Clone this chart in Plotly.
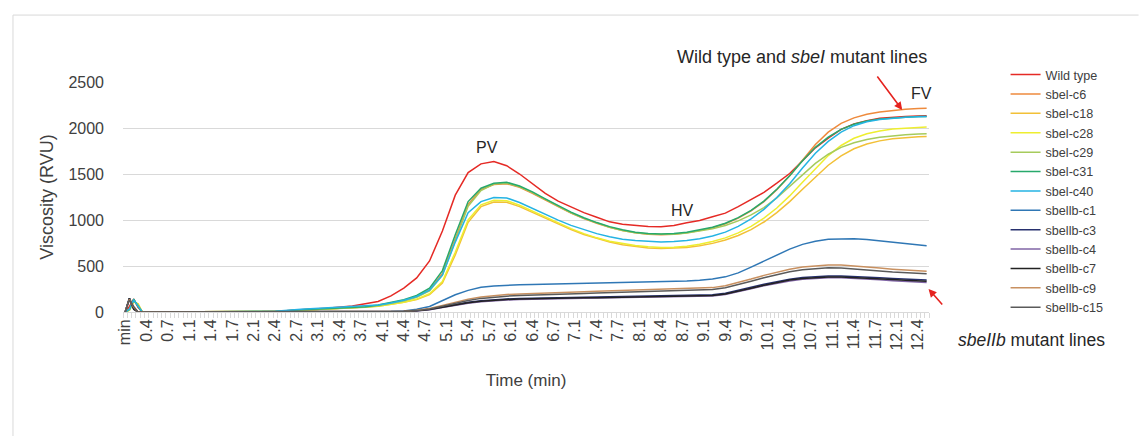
import plotly.graph_objects as go

# ---------------- data ----------------
time_min = [0.067, 0.133, 0.2, 0.267, 0.333, 1.0, 2.0, 2.4, 2.8, 3.2, 3.6,
            3.8, 4.0, 4.2, 4.4, 4.6, 4.8, 5.0, 5.2, 5.4, 5.6,
            5.8, 6.0, 6.2, 6.4, 6.6, 6.8, 7.0, 7.2, 7.4, 7.6,
            7.8, 8.0, 8.2, 8.4, 8.6, 8.8, 9.0, 9.2, 9.4, 9.6,
            9.8, 10.0, 10.2, 10.4, 10.6, 10.8, 11.0, 11.2, 11.4, 11.6,
            11.8, 12.0, 12.2, 12.4, 12.53]

wild_type = [0, 60, 140, 50, 0, 0, 0, 5, 25, 40, 65,
             90, 115, 175, 260, 370, 555, 880, 1270, 1515, 1610,
             1635, 1590, 1500, 1390, 1290, 1205, 1140, 1080, 1030, 980,
             955, 940, 928, 926, 940, 970, 995, 1035, 1075, 1145,
             1220, 1300, 1400, 1505, 1645, 1785, 1890, 1985, 2045, 2080,
             2105, 2117, 2125, 2130, 2132]
sbel_c6 = [0, 30, 130, 70, 0, 0, 0, 5, 20, 35, 45,
           55, 70, 95, 125, 165, 240, 420, 800, 1170, 1330,
           1385, 1395, 1355, 1290, 1215, 1145, 1075, 1015, 965, 920,
           885, 860, 845, 840, 845, 860, 885, 915, 960, 1020,
           1100, 1200, 1330, 1480, 1650, 1820, 1955, 2050, 2110, 2150,
           2175, 2192, 2205, 2212, 2215]
sbel_c18 = [0, 20, 110, 90, 0, 0, 0, 5, 20, 35, 45,
            50, 62, 84, 105, 135, 190, 315, 620, 975, 1145,
            1195, 1192, 1145, 1082, 1018, 955, 896, 842, 797, 760,
            732, 712, 697, 690, 692, 702, 720, 746, 782, 832,
            896, 978, 1080, 1200, 1335, 1470, 1595, 1698, 1774, 1826,
            1860, 1882, 1895, 1905, 1908]
sbel_c28 = [0, 20, 110, 90, 0, 0, 0, 5, 20, 35, 45,
            50, 62, 85, 107, 140, 198, 330, 650, 1000, 1165,
            1215, 1210, 1160, 1095, 1030, 966, 906, 852, 806, 770,
            742, 722, 708, 702, 705, 716, 736, 766, 806, 860,
            930, 1020, 1130, 1262, 1410, 1560, 1700, 1810, 1888, 1938,
            1968, 1988, 2000, 2008, 2012]
sbel_c29 = [0, 20, 120, 80, 0, 0, 0, 5, 20, 35, 45,
            52, 68, 90, 120, 160, 230, 400, 780, 1150, 1320,
            1390, 1400, 1362, 1298, 1222, 1148, 1078, 1018, 966, 922,
            887, 862, 848, 843, 846, 858, 878, 905, 940, 990,
            1055, 1135, 1240, 1365, 1495, 1615, 1715, 1790, 1840, 1875,
            1900, 1915, 1926, 1934, 1937]
sbel_c31 = [0, 30, 140, 60, 0, 0, 0, 5, 25, 40, 50,
            58, 75, 100, 133, 180, 260, 450, 840, 1200, 1345,
            1400, 1410, 1370, 1305, 1230, 1155, 1085, 1025, 972, 928,
            893, 868, 853, 848, 852, 866, 890, 922, 965, 1025,
            1105, 1205, 1335, 1480, 1645, 1790, 1900, 1985, 2040, 2075,
            2098, 2110, 2118, 2124, 2126]
sbel_c40 = [0, 30, 130, 60, 0, 0, 0, 8, 30, 45, 55,
            60, 75, 98, 127, 168, 238, 400, 760, 1080, 1200,
            1245, 1240, 1190, 1125, 1058, 998, 942, 893, 852, 818,
            792, 776, 766, 762, 766, 777, 797, 827, 868, 930,
            1012, 1115, 1245, 1395, 1565, 1725, 1855, 1955, 2025, 2068,
            2093, 2108, 2117, 2122, 2124]
sbellb_c1 = [0, 150, 40, 0, 0, 0, 0, 0, 0, 0, 0,
             0, 2, 5, 12, 30, 60, 125, 188, 235, 268,
             283, 292, 296, 299, 302, 305, 307, 310, 313, 317,
             320, 323, 326, 330, 334, 338, 345, 358, 382, 425,
             488, 555, 622, 683, 735, 770, 790, 797, 796, 787,
             773, 757, 741, 727, 720]
sbellb_c3 = [0, 150, 30, 0, 0, 0, 0, 0, 0, 0, 0,
             0, 1, 3, 7, 16, 31, 56, 83, 106, 123,
             134, 142, 147, 151, 154, 156, 158, 160, 162, 164,
             166, 168, 170, 172, 174, 176, 180, 188, 205, 234,
             268, 302, 332, 357, 375, 386, 391, 390, 386, 379,
             372, 364, 357, 350, 347]
sbellb_c4 = [0, 140, 40, 0, 0, 0, 0, 0, 0, 0, 0,
             0, 1, 2, 5, 12, 25, 48, 73, 95, 112,
             123, 131, 136, 140, 143, 145, 147, 149, 151, 153,
             155, 157, 159, 161, 163, 165, 168, 175, 190, 218,
             252, 285, 314, 338, 356, 367, 372, 371, 366, 358,
             350, 341, 333, 325, 320]
sbellb_c7 = [0, 150, 30, 0, 0, 0, 0, 0, 0, 0, 0,
             0, 1, 3, 6, 14, 28, 52, 78, 100, 117,
             128, 136, 141, 145, 148, 150, 152, 154, 156, 158,
             160, 162, 164, 166, 168, 170, 173, 180, 196, 224,
             258, 292, 322, 347, 365, 376, 381, 380, 375, 368,
             360, 352, 345, 338, 335]
sbellb_c9 = [0, 140, 50, 0, 0, 0, 0, 0, 0, 0, 0,
             0, 2, 4, 8, 18, 38, 72, 108, 140, 163,
             178, 190, 197, 203, 208, 213, 217, 221, 225, 229,
             233, 237, 240, 244, 247, 250, 255, 265, 285, 318,
             358, 398, 435, 465, 490, 505, 512, 510, 502, 490,
             478, 466, 455, 446, 442]
sbellb_c15 = [0, 130, 60, 0, 0, 0, 0, 0, 0, 0, 0,
              0, 2, 4, 7, 15, 32, 62, 95, 125, 148,
              162, 172, 179, 185, 190, 194, 198, 202, 206, 210,
              213, 217, 220, 223, 226, 229, 234, 244, 264, 296,
              334, 372, 408, 437, 460, 474, 480, 478, 470, 458,
              447, 436, 427, 420, 416]

series_names = ["Wild type", "sbel-c6", "sbel-c18", "sbel-c28", "sbel-c29",
                "sbel-c31", "sbel-c40", "sbellb-c1", "sbellb-c3", "sbellb-c4",
                "sbellb-c7", "sbellb-c9", "sbellb-c15"]
series_values = [wild_type, sbel_c6, sbel_c18, sbel_c28, sbel_c29,
                 sbel_c31, sbel_c40, sbellb_c1, sbellb_c3, sbellb_c4,
                 sbellb_c7, sbellb_c9, sbellb_c15]

# category tick labels (Excel category axis, a label every 5 readings)
tick_labels = ["min", "0.4", "0.7", "1.1", "1.4", "1.7", "2.1", "2.4", "2.7", "3.1",
               "3.4", "3.7", "4.1", "4.4", "4.7", "5.1", "5.4", "5.7", "6.1", "6.4",
               "6.7", "7.1", "7.4", "7.7", "8.1", "8.4", "8.7", "9.1", "9.4", "9.7",
               "10.1", "10.4", "10.7", "11.1", "11.4", "11.7", "12.1", "12.4"]
tick_times = [1 / 15] + [0.4 + k / 3 for k in range(37)]

# ---------------- styling ----------------
colors = ["#E52A25", "#EE8A3C", "#F2C037", "#EEEE30", "#A6CB5C",
          "#27A96B", "#25B3E3", "#2F77B5", "#27306E", "#8165A6",
          "#222222", "#C89060", "#5A5A5A"]
FONT = "Liberation Sans, Arial, sans-serif"
TXT = "#404040"
GRID = "#D9D9D9"

fig = go.Figure()
for name, vals, col in zip(series_names, series_values, colors):
    fig.add_trace(go.Scatter(x=time_min, y=vals, mode="lines", name=name,
                             line=dict(color=col, width=1.5)))

fig.update_layout(
    width=1145, height=436,
    margin=dict(l=123, r=216, t=82, b=124),
    paper_bgcolor="white", plot_bgcolor="white",
    font=dict(family=FONT, color=TXT),
    showlegend=True,
    legend=dict(x=1.095, y=1.096, xanchor="left", yanchor="top",
                font=dict(size=12.6, color=TXT, family=FONT), maxheight=420,
                bgcolor="rgba(0,0,0,0)", tracegroupgap=0, itemwidth=30),
)

fig.update_xaxes(
    range=[1 / 30, 12.5667], tickmode="array", tickvals=tick_times, ticktext=tick_labels,
    tickangle=-90, tickfont=dict(size=16, color=TXT), ticks="",
    showgrid=False, zeroline=False, showline=True, linecolor=GRID, linewidth=1,
    minor=dict(tickmode="linear", tick0=1 / 30, dtick=1 / 15, ticks="outside",
               ticklen=5, tickcolor=GRID, tickwidth=1, showgrid=False),
    title=dict(text="Time (min)", font=dict(size=17, color=TXT), standoff=24),
)
fig.update_yaxes(
    range=[0, 2500], tickvals=[0, 500, 1000, 1500, 2000, 2500],
    tickfont=dict(size=16, color=TXT), showgrid=True, gridcolor=GRID, gridwidth=1,
    zeroline=False, showline=False, ticks="", ticklabelstandoff=18,
    title=dict(text="Viscosity (RVU)", font=dict(size=18, color=TXT), standoff=10),
)

# outer chart frame (top and left edges visible)
fig.add_shape(type="line", xref="paper", yref="paper", x0=-0.1365, x1=1.26,
              y0=1.291, y1=1.291, line=dict(color=GRID, width=1))
fig.add_shape(type="line", xref="paper", yref="paper", x0=-0.1365, x1=-0.1365,
              y0=1.291, y1=-0.6, line=dict(color=GRID, width=1))

RED = "#E5231F"
ann_font = dict(size=16, color="#262626", family=FONT)
fig.add_annotation(x=5.69, y=1783, xref="x", yref="y", text="PV", showarrow=False, font=ann_font)
fig.add_annotation(x=8.73, y=1098, xref="x", yref="y", text="HV", showarrow=False, font=ann_font)
fig.add_annotation(x=12.45, y=2370, xref="x", yref="y", text="FV", showarrow=False, font=ann_font)
fig.add_annotation(x=0.8424, y=1.1087, xref="paper", yref="paper", xanchor="center", yanchor="middle",
                   text="Wild type and <i>sbeI</i> mutant lines", showarrow=False,
                   font=dict(size=18, color="#262626", family=FONT))
fig.add_annotation(x=12.15, y=2196, xref="x", yref="y", text="", showarrow=True,
                   ax=-26, ay=-35, arrowhead=2, arrowsize=1, arrowwidth=1.6, arrowcolor=RED)
fig.add_annotation(x=1.1266, y=-0.1217, xref="paper", yref="paper", xanchor="center", yanchor="middle",
                   text="<i>sbeIIb</i> mutant lines", showarrow=False,
                   font=dict(size=17.5, color="#262626", family=FONT))
fig.add_annotation(x=12.56, y=250, xref="x", yref="y", text="", showarrow=True,
                   ax=15, ay=17, arrowhead=2, arrowsize=1, arrowwidth=1.6, arrowcolor=RED)

fig.write_html("out.html")
